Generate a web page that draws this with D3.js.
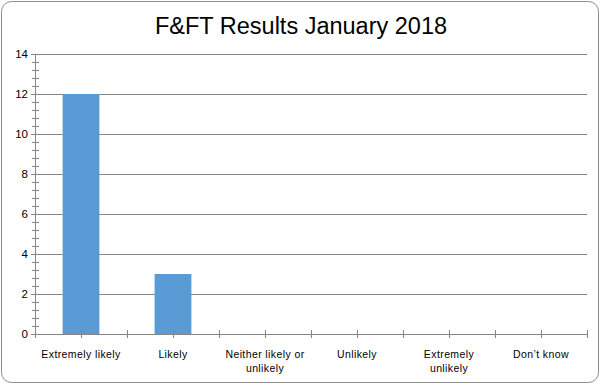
<!DOCTYPE html>
<html>
<head>
<meta charset="utf-8">
<script src="https://cdn.jsdelivr.net/npm/d3@7"></script>
<style>
  body { margin: 0; background: #fff; }
  text { font-family: "Liberation Sans", Arial, sans-serif; fill: #000; }
</style>
</head>
<body>
<svg width="601" height="385"></svg>
<script>
var categories = ['Extremely likely', 'Likely', 'Neither likely or unlikely', 'Unlikely', 'Extremely unlikely', 'Don\u2019t know'];
var counts = [12, 3, 0, 0, 0, 0];
var yTicks = [0, 2, 4, 6, 8, 10, 12, 14];
var title = 'F&FT Results January 2018';

var svg = d3.select('svg');
var plotLeft = 35, plotRight = 587, plotTop = 54, plotBottom = 334;

// chart frame
svg.append('rect')
  .attr('x', 1.5).attr('y', 1.5)
  .attr('width', 597).attr('height', 381)
  .attr('rx', 10).attr('ry', 10)
  .attr('fill', '#fff')
  .attr('stroke', '#8c8c8c');

svg.append('text')
  .attr('x', 301).attr('y', 34)
  .attr('text-anchor', 'middle')
  .style('font-size', '23.5px')
  .text(title);

var x = d3.scaleBand().domain(categories).range([plotLeft, plotRight]);
var y = d3.scaleLinear().domain([0, 14]).range([plotBottom, plotTop]);

// gridlines
svg.append('g').selectAll('line').data(yTicks).enter().append('line')
  .attr('x1', plotLeft - 4).attr('x2', plotRight)
  .attr('y1', function(d) { return y(d) + 0.5; })
  .attr('y2', function(d) { return y(d) + 0.5; })
  .attr('stroke', '#868686');

// minor ticks on the value axis
var minor = d3.range(0, 14.001, 0.4);
svg.append('g').selectAll('line').data(minor).enter().append('line')
  .attr('x1', plotLeft - 3).attr('x2', plotLeft + 4)
  .attr('y1', function(d) { return Math.round(y(d)) + 0.5; })
  .attr('y2', function(d) { return Math.round(y(d)) + 0.5; })
  .attr('stroke', '#868686');

svg.append('line')
  .attr('x1', plotLeft + 0.5).attr('x2', plotLeft + 0.5)
  .attr('y1', plotTop).attr('y2', plotBottom)
  .attr('stroke', '#868686');

svg.append('g').selectAll('text').data(yTicks).enter().append('text')
  .attr('x', 28)
  .attr('y', function(d) { return y(d) + 4; })
  .attr('text-anchor', 'end')
  .style('font-size', '11.5px')
  .text(function(d) { return d; });

// bars
var barW = x.bandwidth() * 0.4;
svg.append('g').selectAll('rect').data(counts).enter().append('rect')
  .attr('x', function(d, i) { return x(categories[i]) + (x.bandwidth() - barW) / 2; })
  .attr('y', function(d) { return y(d); })
  .attr('width', barW)
  .attr('height', function(d) { return plotBottom - y(d); })
  .attr('fill', '#5b9bd5');

// category axis, ticks at band edges and centres
var xTicks = [];
categories.forEach(function(c) { xTicks.push(x(c), x(c) + x.bandwidth() / 2); });
xTicks.push(plotRight);
svg.append('line')
  .attr('x1', plotLeft).attr('x2', plotRight)
  .attr('y1', plotBottom + 0.5).attr('y2', plotBottom + 0.5)
  .attr('stroke', '#868686');
svg.append('g').selectAll('line').data(xTicks).enter().append('line')
  .attr('x1', function(d) { return Math.round(d) + 0.5; })
  .attr('x2', function(d) { return Math.round(d) + 0.5; })
  .attr('y1', plotBottom - 4).attr('y2', plotBottom + 4)
  .attr('stroke', '#868686');

var labels = svg.append('g').selectAll('text').data(categories).enter().append('text')
  .attr('x', function(d) { return x(d) + x.bandwidth() / 2; })
  .attr('y', 358)
  .attr('text-anchor', 'middle')
  .style('font-size', '10.5px')
  .style('letter-spacing', '0.4px')
  .text(function(d) { return d; });

labels.each(function(d) {
  var t = d3.select(this);
  var words = d.split(' ');
  var line = [], lines = [];
  var tsp = t.text(null).append('tspan').attr('x', t.attr('x'));
  words.forEach(function(w) {
    line.push(w);
    tsp.text(line.join(' '));
    if (tsp.node().getComputedTextLength() > 88 && line.length > 1) {
      line.pop();
      lines.push(line.join(' '));
      line = [w];
    }
  });
  lines.push(line.join(' '));
  tsp.remove();
  lines.forEach(function(l, i) {
    t.append('tspan').attr('x', t.attr('x')).attr('dy', i ? 14 : 0).text(l);
  });
});
</script>
</body>
</html>
